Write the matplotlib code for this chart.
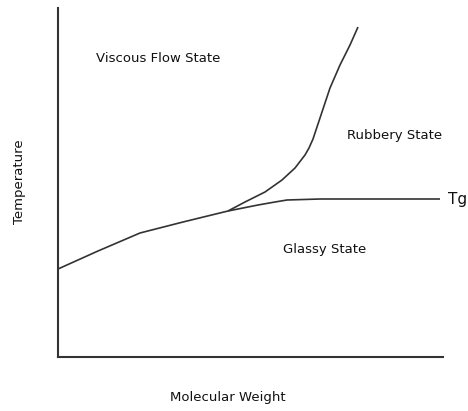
import matplotlib
matplotlib.use("Agg")
import matplotlib.pyplot as plt

# Glass transition (Tg) boundary: Glassy / Rubbery-Viscous
tg_mw = [0, 40, 82, 125, 170, 200, 217, 229, 262, 320, 382]
tg_temp = [88, 106, 124, 135, 146, 152, 155, 157, 158, 158, 158]

# Flow boundary: Rubbery / Viscous flow
flow_mw = [170, 187, 207, 224, 237, 247, 251, 255, 259, 265, 272, 282, 292, 300]
flow_temp = [146, 155, 165, 177, 189, 202, 209, 218, 230, 248, 269, 292, 312, 330]

region_labels = ["Viscous Flow State", "Rubbery State", "Glassy State"]
region_mw = [100, 337, 267]
region_temp = [299, 222, 107]

x_label = "Molecular Weight"
y_label = "Temperature"
tg_label = "Tg"

W, H = 468, 411
fig = plt.figure(figsize=(W / 100, H / 100), dpi=100)
ax = fig.add_axes([58 / W, (H - 357) / H, (443 - 58) / W, (357 - 8) / H])
ax.set_xlim(0, 385)
ax.set_ylim(0, 349)

line_color = "#333333"
ax.plot(tg_mw, tg_temp, color=line_color, lw=1.2, solid_capstyle="butt")
ax.plot(flow_mw, flow_temp, color=line_color, lw=1.2, solid_capstyle="butt")

for s in ["top", "right"]:
    ax.spines[s].set_visible(False)
for s in ["left", "bottom"]:
    ax.spines[s].set_linewidth(1.5)
    ax.spines[s].set_color("#333333")
ax.set_xticks([])
ax.set_yticks([])

fs = 9.5
txt_color = "#111111"
for lab, x, y in zip(region_labels, region_mw, region_temp):
    ax.text(x, y, lab, ha="center", va="center", fontsize=fs, color=txt_color)

ax.text(390, tg_temp[-1], tg_label, ha="left", va="center", fontsize=11, color=txt_color)

fig.text(228 / W, 1 - 397 / H, x_label, ha="center", va="center", fontsize=fs, color=txt_color)
fig.text(20 / W, 1 - 182 / H, y_label, ha="center", va="center", rotation=90, fontsize=fs, color=txt_color)

fig.savefig("out.png", dpi=100, facecolor="white")
